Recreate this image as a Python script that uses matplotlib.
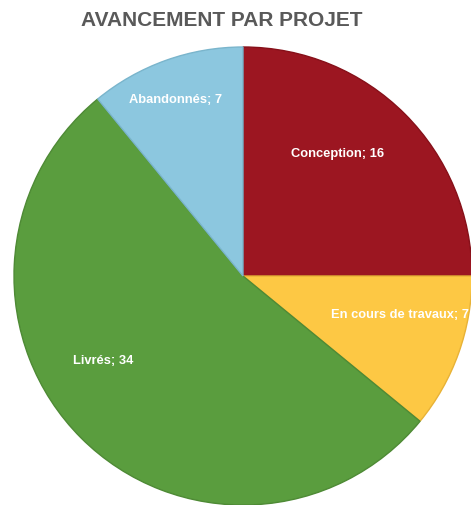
import matplotlib
matplotlib.use("Agg")
import matplotlib.pyplot as plt

categories = ["Conception", "En cours de travaux", "Livrés", "Abandonnés"]
values = [16, 7, 34, 7]
colors = ["#9C1621", "#FDC844", "#5A9D3E", "#8CC7DF"]
edges = ["#861019", "#E8B236", "#4E8A35", "#7AB5CC"]
# label positions (x, y) in axes data units
label_pos = [(0.415, 0.533), (0.686, -0.17), (-0.611, -0.371), (-0.293, 0.769)]

W, H = 471, 505
fig = plt.figure(figsize=(W / 100, H / 100), dpi=100)
cx, cy, r = 243, 229, 229
ax = fig.add_axes([(cx - r) / W, (cy - r) / H, 2 * r / W, 2 * r / H])
wedges, _ = ax.pie(values, colors=colors, startangle=90, counterclock=False,
                   radius=1, wedgeprops=dict(linewidth=1.0))
for w, ec in zip(wedges, edges):
    w.set_edgecolor(ec)
    w.set_clip_on(False)
ax.set_xlim(-1, 1)
ax.set_ylim(-1, 1)
ax.set_aspect("equal")
ax.axis("off")

for cat, v, (x, y) in zip(categories, values, label_pos):
    ax.text(x, y, f"{cat}; {v}", ha="center", va="center", color="white",
            fontsize=9.3, fontweight="bold", family="Liberation Sans")

fig.text(222 / W, 1 - 21 / H, "AVANCEMENT PAR PROJET", ha="center", va="center",
         fontsize=15, fontweight="bold", color="#595959", family="Liberation Sans")

fig.savefig("out.png", dpi=100, facecolor="white")
